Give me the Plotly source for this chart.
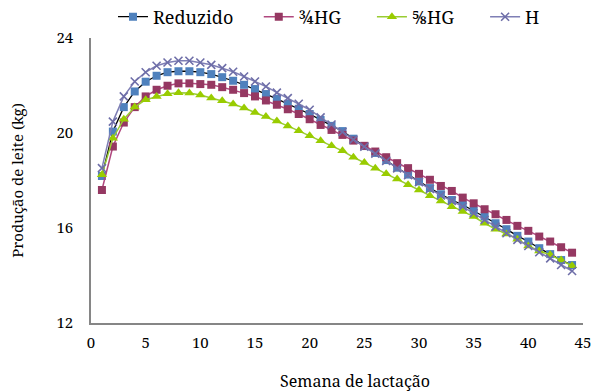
import plotly.graph_objects as go

weeks = list(range(1, 45))

reduzido = [18.19, 20.06, 21.09, 21.75, 22.16, 22.41, 22.56, 22.60, 22.60, 22.56,
            22.48, 22.35, 22.20, 22.03, 21.85, 21.64, 21.44, 21.23, 21.02, 20.80,
            20.55, 20.30, 20.08, 19.76, 19.45, 19.16, 18.86, 18.54, 18.25, 17.96,
            17.68, 17.42, 17.18, 16.98, 16.73, 16.48, 16.20, 15.95, 15.67, 15.43,
            15.15, 14.90, 14.65, 14.44]

hg34 = [17.60, 19.43, 20.44, 21.09, 21.54, 21.82, 21.99, 22.09, 22.09, 22.06,
        22.03, 21.93, 21.82, 21.68, 21.54, 21.37, 21.19, 21.00, 20.80, 20.58,
        20.34, 20.13, 19.92, 19.68, 19.46, 19.22, 18.98, 18.73, 18.52, 18.28,
        18.03, 17.77, 17.56, 17.28, 17.04, 16.79, 16.58, 16.34, 16.09, 15.88,
        15.64, 15.43, 15.19, 14.96]

hg58 = [18.24, 19.78, 20.58, 21.09, 21.40, 21.54, 21.65, 21.70, 21.68, 21.60,
        21.47, 21.36, 21.22, 21.05, 20.86, 20.70, 20.51, 20.30, 20.09, 19.88,
        19.67, 19.46, 19.25, 18.98, 18.76, 18.52, 18.28, 18.06, 17.82, 17.60,
        17.36, 17.14, 16.90, 16.69, 16.48, 16.20, 15.95, 15.75, 15.53, 15.24,
        15.03, 14.87, 14.65, 14.41]

h = [18.52, 20.48, 21.54, 22.17, 22.56, 22.83, 22.97, 23.04, 23.04, 22.97,
     22.87, 22.73, 22.58, 22.38, 22.17, 21.96, 21.70, 21.47, 21.23, 20.98,
     20.66, 20.36, 20.05, 19.72, 19.42, 19.13, 18.82, 18.51, 18.22, 17.93,
     17.64, 17.37, 17.14, 16.90, 16.62, 16.34, 16.06, 15.78, 15.50, 15.24,
     14.98, 14.72, 14.44, 14.19]

series_names = ["Reduzido", "¾HG", "⅝HG", "H"]
x_title = "Semana de lactação"
y_title = "Produção de leite (kg)"

FONT = "Noto Serif, DejaVu Serif, serif"

fig = go.Figure()
fig.add_trace(go.Scatter(
    x=weeks, y=reduzido, name=series_names[0], mode="lines+markers", legend="legend",
    line=dict(color="#000000", width=1.3),
    marker=dict(symbol="square", size=8, color="#4F81BD", line=dict(width=0))))
fig.add_trace(go.Scatter(
    x=weeks, y=hg34, name=series_names[1], mode="lines+markers", legend="legend2",
    line=dict(color="#B0487F", width=1.5),
    marker=dict(symbol="square", size=8, color="#953862", line=dict(width=0))))
fig.add_trace(go.Scatter(
    x=weeks, y=hg58, name=series_names[2], mode="lines+markers", legend="legend3",
    line=dict(color="#99CC33", width=1.5),
    marker=dict(symbol="triangle-up", size=9, color="#99CC00", line=dict(width=0))))
fig.add_trace(go.Scatter(
    x=weeks, y=h, name=series_names[3], mode="lines+markers", legend="legend4",
    line=dict(color="#7F7FB5", width=1.5),
    marker=dict(symbol="x-thin", size=8, color="#6E6EA8", line=dict(width=1.6, color="#6E6EA8"))))

def leg(xfrac):
    return dict(orientation="h", x=xfrac, xanchor="left",
                yref="container", y=1 - 17 / 391, yanchor="middle",
                font=dict(family=FONT, size=18, color="#000000"),
                bgcolor="rgba(0,0,0,0)", itemwidth=30)

fig.add_annotation(text=x_title, xref="paper", yref="paper",
                   x=(355 - 91) / 492, y=-(381 - 323) / 285,
                   xanchor="center", yanchor="middle", showarrow=False,
                   font=dict(family=FONT, size=16, color="#000000"))

fig.update_layout(
    width=594, height=391,
    margin=dict(l=91, r=11, t=38, b=68, autoexpand=False),
    paper_bgcolor="white", plot_bgcolor="white",
    font=dict(family=FONT, size=15, color="#000000"),
    showlegend=True,
    legend=leg(0.0447),
    legend2=leg(0.341),
    legend3=leg(0.571),
    legend4=leg(0.801),
    xaxis=dict(range=[0, 45], tickmode="linear", tick0=0, dtick=5,
               showgrid=False, zeroline=False, showline=True,
               linecolor="#868686", linewidth=1.5, ticks="",
               tickfont=dict(family=FONT, size=15), ticklabelstandoff=5),
    yaxis=dict(range=[12, 24], tickmode="linear", tick0=12, dtick=4,
               showgrid=False, zeroline=False, showline=True,
               linecolor="#868686", linewidth=1.5, ticks="",
               tickfont=dict(family=FONT, size=15), ticklabelstandoff=13,
               title=dict(text=y_title, font=dict(family=FONT, size=15), standoff=29)),
)

fig.write_html("out.html")
